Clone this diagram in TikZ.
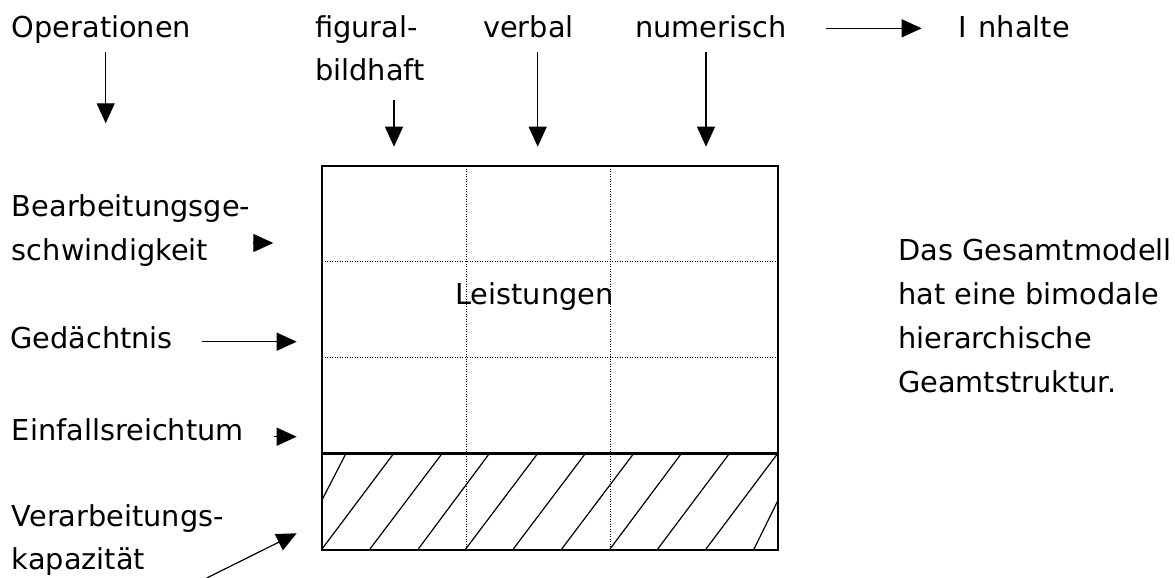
\documentclass[tikz,border=0pt]{standalone}
\usepackage{fontspec}
\setmainfont{DejaVu Sans}
\usetikzlibrary{arrows.meta}
\begin{document}
\begin{tikzpicture}[x=1pt,y=-1pt,
  lbl/.style={anchor=base west, inner sep=0pt, font=\fontsize{28.8}{43}\selectfont},
  arr/.style={line width=1.2pt, -{Triangle[length=20pt,width=18pt]}},
  frame/.style={line width=1.3pt},
  gridline/.style={line width=0.9pt, dash pattern=on 1pt off 1.5pt},
  hatch/.style={line width=1.2pt},
  thickline/.style={line width=2.7pt}]
\useasboundingbox (0,0) rectangle (1175,578);

% texts
\node[lbl] (oper) at (11.7,37.3) {Operationen};
\node[lbl] (fig1) at (315,37.3) {figural-};
\node[lbl] (fig2) at (315,80.7) {bildhaft};
\node[lbl] (verb) at (483,37.3) {verbal};
\node[lbl] (num) at (635,37.3) {numerisch};
\node[lbl] (inh) at (958,37.3) {I\kern12pt nhalte};

\node[lbl] (bea1) at (11.7,216.7) {Bearbeitungsge-};
\node[lbl] (bea2) at (11.7,260) {schwindigkeit};
\node[lbl] (ged) at (10,348.3) {Gedächtnis};
\node[lbl] (einf) at (11.7,440) {Einfallsreichtum};
\node[lbl] (ver1) at (11.7,526) {Verarbeitungs-};
\node[lbl] (ver2) at (11.7,569) {kapazität};

\node[lbl] (leis) at (455,304) {Leistungen};

\node[lbl] (g1) at (898,260) {Das Gesamtmodell};
\node[lbl] (g2) at (898,304) {hat eine bimodale};
\node[lbl] (g3) at (898,348.3) {hierarchische};
\node[lbl] (g4) at (898,392.5) {Geamtstruktur.};

% box
\coordinate (bNW) at (322,166);
\coordinate (bSE) at (778,550);
\draw[gridline] (466,166) -- (466,550);
\draw[gridline] (610,166) -- (610,550);
\draw[gridline] (322,261) -- (778,261);
\draw[gridline] (322,357) -- (778,357);
% hatching
\draw[hatch] (345.7,454) -- (322,500);
\draw[hatch] (322,549) -- (393.3,454);
\draw[hatch] (370,549) -- (441.7,454);
\draw[hatch] (418.3,549) -- (489,454);
\draw[hatch] (465.7,549) -- (537.3,454);
\draw[hatch] (513.3,549) -- (585,454);
\draw[hatch] (561.7,549) -- (633.3,454);
\draw[hatch] (610,549) -- (681,454);
\draw[hatch] (657.7,549) -- (729,454);
\draw[hatch] (706,549) -- (777.3,454);
\draw[hatch] (754,549) -- (777.3,501.7);
\draw[frame] (bNW) rectangle (bSE);
\draw[thickline] (322,453.3) -- (778,453.3);

% arrows
\coordinate (operS) at (105.7,51.7);
\coordinate (operE) at (105.7,123.3);
\draw[arr] (operS) -- (operE);
\coordinate (figS) at (394,100);
\coordinate (figE) at (394,146.7);
\draw[arr] (figS) -- (figE);
\coordinate (verbS) at (537.7,51.7);
\coordinate (verbE) at (537.7,146.7);
\draw[arr] (verbS) -- (verbE);
\coordinate (numS) at (706,51.7);
\coordinate (numE) at (706,146.7);
\draw[arr] (numS) -- (numE);
\coordinate (inhS) at (826,28.3);
\coordinate (inhE) at (921.7,28.3);
\draw[arr] (inhS) -- (inhE);

\coordinate (beaS) at (253,243);
\coordinate (beaE) at (273.3,243);
\draw[arr] (beaS) -- (beaE);
\coordinate (gedS) at (201.7,341.7);
\coordinate (gedE) at (296.7,341.7);
\draw[arr] (gedS) -- (gedE);
\coordinate (einfS) at (273.5,436.7);
\coordinate (einfE) at (296.7,436.7);
\draw[arr] (einfS) -- (einfE);
\coordinate (verS) at (206.7,578);
\coordinate (verE) at (296.7,533.3);
\draw[arr] (verS) -- (verE);
\end{tikzpicture}
\end{document}
